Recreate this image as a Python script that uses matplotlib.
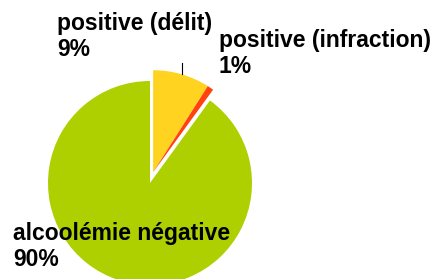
# Camembert : répartition des alcoolémies
import numpy as np
import matplotlib
matplotlib.use('Agg')
import matplotlib.pyplot as plt

categories = ['positive (délit)', 'positive (infraction)', 'alcoolémie négative']
parts = [9, 1, 90]
couleurs = ['#FFD320', '#FF420E', '#AECF00']

W, H = 434, 279
fig = plt.figure(figsize=(W / 100, H / 100), dpi=100)
ax = fig.add_axes([0, 0, 1, 1])

centre = (150, H - 183)
rayon = 102
wedges, _ = ax.pie(parts, colors=couleurs, startangle=90, counterclock=False,
                   center=centre, radius=rayon,
                   wedgeprops=dict(linewidth=0))

# les deux parts positives sont décalées ensemble, dans l'axe de la part jaune
ang = np.deg2rad((wedges[0].theta1 + wedges[0].theta2) / 2)
decal = 0.11 * rayon
cx = centre[0] + decal * np.cos(ang)
cy = centre[1] + decal * np.sin(ang)
for w in wedges[:2]:
    w.set_center((cx, cy))

# trait de rappel pour l'étiquette 9%
bx = cx + rayon * np.cos(ang)
by = cy + rayon * np.sin(ang)
ax.plot([bx, bx], [by, by + 11], color='black', linewidth=0.8)

police = dict(family=['Liberation Sans', 'DejaVu Sans'], fontweight='bold',
              fontsize=16.5, va='top', ha='left', linespacing=1.15)
positions = [(57, 12), (219, 29), (13, 222)]
for nom, val, (x, y) in zip(categories, parts, positions):
    ax.text(x, H - y, f'{nom}\n{val}%', **police)

ax.set_xlim(0, W)
ax.set_ylim(0, H)
ax.set_aspect('equal')
ax.axis('off')

plt.savefig('out.png', dpi=100)
